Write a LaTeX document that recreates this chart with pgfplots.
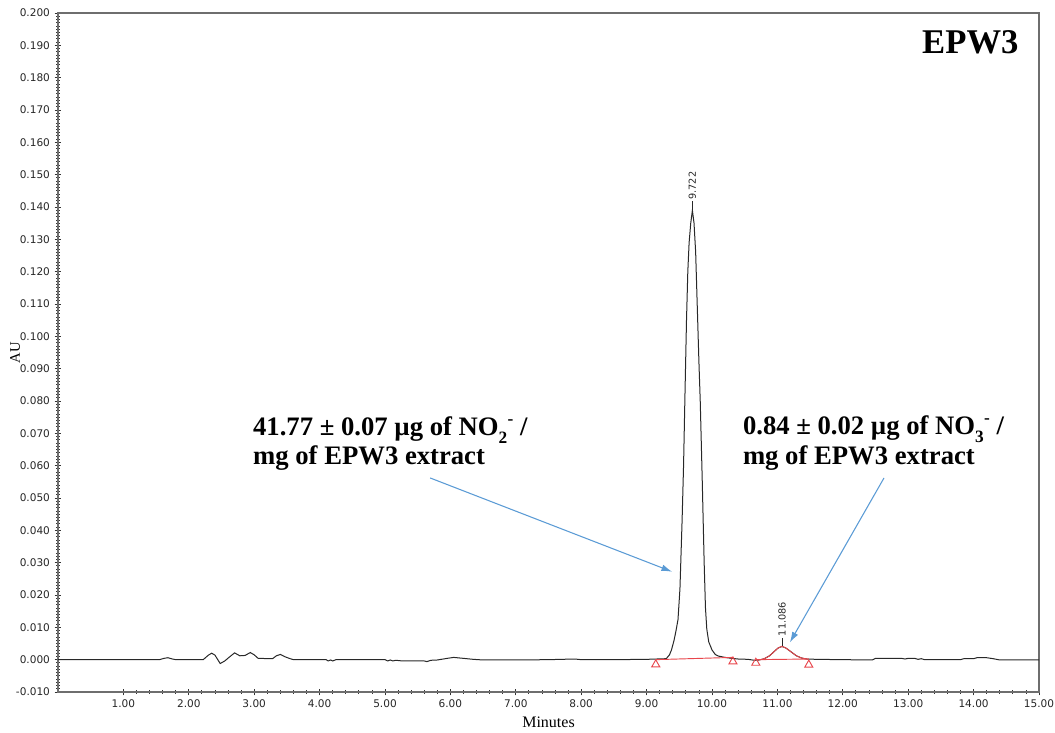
\documentclass[border=0pt]{standalone}
\usepackage{fontspec}
\setmainfont{Liberation Serif}
\newfontfamily\tickfont{DejaVu Sans}
\usepackage{pgfplots}
\pgfplotsset{compat=1.18}
\usetikzlibrary{arrows.meta}
\definecolor{trace}{RGB}{40,40,40}
\definecolor{intred}{RGB}{232,70,76}
\definecolor{arrowblue}{RGB}{91,155,213}
\definecolor{framegray}{RGB}{110,110,110}
\newcommand{\ion}[1]{\raisebox{-0.28em}{\fontsize{13}{13}\selectfont #1}\kern0.01em\raisebox{0.42em}{\fontsize{13}{13}\selectfont -}}
\begin{document}
\begin{tikzpicture}
\begin{axis}[
  name=ax,
  scale only axis,
  width=735.75pt, height=509.25pt,
  xmin=0, xmax=15, ymin=-0.01, ymax=0.2,
  axis line style={framegray, line width=0.9pt},
  xtick={1,2,3,4,5,6,7,8,9,10,11,12,13,14,15},
  ytick={-0.01,0,0.01,0.02,0.03,0.04,0.05,0.06,0.07,0.08,0.09,0.1,0.11,0.12,0.13,0.14,0.15,0.16,0.17,0.18,0.19,0.2},
  minor x tick num=4,
  minor y tick num=9,
  xtick pos=bottom, ytick pos=left,
  tick align=center,
  major tick length=5pt,
  minor tick length=2.5pt,
  every tick/.style={black!80, line width=0.6pt},
  /pgf/number format/assume math mode=true,
  tick label style={font=\tickfont\fontsize{7.9}{9}\selectfont, text=black!85},
  xticklabel style={/pgf/number format/.cd, fixed, fixed zerofill, precision=2},
  yticklabel style={/pgf/number format/.cd, fixed, fixed zerofill, precision=3},
  scaled y ticks=false,
  xlabel={Minutes},
  ylabel={AU},
  xlabel style={font=\fontsize{12}{14}\selectfont, at={(axis description cs:0.5,0)}, anchor=center, yshift=-22.5pt},
  ylabel style={font=\fontsize{11}{13}\selectfont, at={(axis description cs:0,0.5)}, anchor=center, xshift=0pt, yshift=32.25pt},
  clip=false,
]
% chromatogram trace
\addplot[trace, line width=0.75pt] coordinates {
(0,0) (1.55,0) (1.62,0.0004) (1.68,0.0006) (1.75,0.0002) (1.80,0)
(2.22,0) (2.30,0.0014) (2.35,0.0020) (2.40,0.0014) (2.48,-0.0012) (2.55,-0.0004)
(2.62,0.0008) (2.70,0.0021) (2.78,0.0012) (2.86,0.0013) (2.94,0.0022) (3.00,0.0015)
(3.06,0.0004) (3.28,0.0003) (3.34,0.0012) (3.40,0.0016) (3.47,0.0009) (3.55,0.0003)
(3.60,0) (4.10,0) (4.13,-0.0004) (4.17,-0.0001) (4.20,-0.0004) (4.25,0)
(5.00,0) (5.04,-0.0004) (5.08,-0.0001) (5.12,-0.0004) (5.16,-0.0002) (5.22,-0.0003)
(5.26,-0.0004) (5.60,-0.0004) (5.64,-0.0006) (5.70,-0.0002) (5.80,-0.0001) (5.95,0.0004)
(6.05,0.0007) (6.15,0.0005) (6.35,0.0001) (6.50,-0.0001) (7.00,-0.0001) (7.50,0)
(7.90,0.0002) (8.00,0) (8.50,0) (9.00,0.0001) (9.30,0.0003)
(9.35,0.0015) (9.38,0.0030) (9.42,0.0060) (9.45,0.0090) (9.48,0.0124) (9.51,0.0220)
(9.543,0.0433) (9.565,0.060) (9.588,0.0834) (9.61,0.105) (9.63,0.120) (9.65,0.129)
(9.675,0.135) (9.70,0.139) (9.725,0.135) (9.75,0.126) (9.80,0.092) (9.82,0.080)
(9.85,0.056) (9.865,0.043) (9.88,0.030) (9.90,0.0160) (9.92,0.0095) (9.95,0.0055)
(10.00,0.0030) (10.05,0.0016) (10.10,0.0011) (10.20,0.0007) (10.30,0.0004) (10.40,0.0002)
(10.55,0.0001) (10.65,-0.0002) (10.72,-0.0001) (10.80,0.0003) (10.88,0.0012) (10.95,0.0025)
(11.01,0.0036) (11.07,0.0041) (11.13,0.0036) (11.21,0.0024) (11.29,0.0012) (11.37,0.0005)
(11.45,0.0002) (11.60,0.0001) (12.00,0) (12.45,-0.0001) (12.50,0.0004) (12.90,0.0004)
(12.95,0.0002) (13.00,0.0004) (13.10,0.0004) (13.15,0.0001) (13.20,0.0003) (13.25,0)
(13.80,0) (13.85,0.0003) (14.00,0.0003) (14.05,0.0006) (14.20,0.0006) (14.30,0.0003)
(14.40,-0.0001) (15.00,-0.0001)
};
% integration baselines
\addplot[intred, line width=0.7pt] coordinates {(9.14,0.0000) (10.32,0.0007)};
\addplot[intred, line width=0.7pt] coordinates {(10.67,0.0000) (11.48,0.0002)};
\addplot[intred, line width=0.7pt] coordinates {
(10.72,-0.0001) (10.80,0.0003) (10.88,0.0012) (10.95,0.0025) (11.01,0.0036) (11.07,0.0041)
(11.13,0.0036) (11.21,0.0024) (11.29,0.0012) (11.37,0.0005) (11.45,0.0002) (11.48,0.0002)};
% integration markers
\addplot[only marks, mark=triangle, mark size=3.5pt, mark options={intred, line width=0.7pt, fill=white}]
 coordinates {(9.14,-0.0015) (10.32,-0.0006) (10.67,-0.0010) (11.48,-0.0016)};
% peak labels
\draw[trace, line width=0.6pt] (axis cs:9.70,0.1392) -- (axis cs:9.70,0.1418);
\node[rotate=90, anchor=west, inner sep=1pt, font=\tickfont\fontsize{7.3}{8}\selectfont, text=black!85] at (axis cs:9.70,0.1418) {9.722};
\draw[trace, line width=0.6pt] (axis cs:11.07,0.0041) -- (axis cs:11.07,0.0068);
\node[rotate=90, anchor=west, inner sep=1pt, font=\tickfont\fontsize{7.3}{8}\selectfont, text=black!85] at (axis cs:11.07,0.0068) {11.086};
% annotations
\node[anchor=base west, inner sep=0pt, font=\bfseries\fontsize{20}{21}\selectfont] at (axis cs:2.98,0.0692) {41.77 ± 0.07 µg of NO\ion{2} /};
\node[anchor=base west, inner sep=0pt, font=\bfseries\fontsize{20}{21}\selectfont] at (axis cs:2.98,0.0603) {mg of EPW3 extract};
\node[anchor=base west, inner sep=0pt, font=\bfseries\fontsize{20}{21}\selectfont] at (axis cs:10.47,0.0695) {0.84 ± 0.02 µg of NO\ion{3} /};
\node[anchor=base west, inner sep=0pt, font=\bfseries\fontsize{20}{21}\selectfont] at (axis cs:10.47,0.0603) {mg of EPW3 extract};
\node[anchor=base west, inner sep=0pt, font=\bfseries\fontsize{26}{28}\selectfont] at (axis cs:13.21,0.1876) {EPW3};
\draw[arrowblue, line width=0.8pt, -{Latex[length=8pt,width=5pt]}] (axis cs:5.69,0.0562) -- (axis cs:9.39,0.0272);
\draw[arrowblue, line width=0.8pt, -{Latex[length=8pt,width=5pt]}] (axis cs:12.63,0.0562) -- (axis cs:11.19,0.0053);
\end{axis}
\pgfresetboundingbox
\path[use as bounding box] ([shift={(-43.5pt,-30.75pt)}]ax.south west) rectangle ([shift={(12pt,9.75pt)}]ax.north east);
\end{tikzpicture}
\end{document}
